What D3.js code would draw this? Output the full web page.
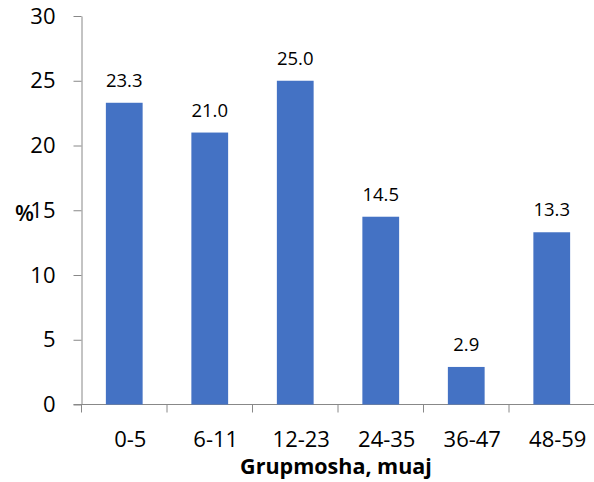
<!DOCTYPE html>
<html>
<head>
<meta charset="utf-8">
<script src="https://cdn.jsdelivr.net/npm/d3@7"></script>
<style>
  body { margin: 0; background: #fff; }
  svg { display: block; font-family: "Open Sans", sans-serif; }
</style>
</head>
<body>
<div id="chart"></div>
<script>
const categories = ["0-5", "6-11", "12-23", "24-35", "36-47", "48-59"];
const values = [23.3, 21.0, 25.0, 14.5, 2.9, 13.3];
const yTicks = [0, 5, 10, 15, 20, 25, 30];

const width = 594;
const height = 482;
const margin = { top: 16, right: 0, bottom: 77.5, left: 81.5 };

const svg = d3.select("#chart")
    .append("svg")
    .attr("width", width)
    .attr("height", height);

const x = d3.scaleBand()
    .domain(categories)
    .range([margin.left, width + 0.5])
    .paddingInner(0.57)
    .paddingOuter(0.285);

const y = d3.scaleLinear()
    .domain([0, 30])
    .range([height - margin.bottom, margin.top]);

const axisColor = "#888888";

// y axis
const yAxis = svg.append("g")
    .attr("transform", `translate(${margin.left},0)`)
    .call(d3.axisLeft(y).tickValues(yTicks).tickSize(8).tickPadding(18).tickSizeOuter(0));
yAxis.select(".domain").attr("stroke", axisColor);
yAxis.selectAll(".tick line").attr("stroke", axisColor);
yAxis.selectAll(".tick text")
    .attr("fill", "#000")
    .style("font-size", "22px")
    .style("font-family", "'Open Sans', sans-serif");

// x axis line and boundary ticks
const y0 = y(0);
svg.append("line")
    .attr("x1", margin.left - 8).attr("x2", x.range()[1])
    .attr("y1", y0).attr("y2", y0)
    .attr("stroke", axisColor);

const bounds = d3.range(categories.length + 1).map(i => x.range()[0] + i * x.step());
svg.selectAll(".xtick")
    .data(bounds)
    .enter().append("line")
    .attr("class", "xtick")
    .attr("x1", d => d).attr("x2", d => d)
    .attr("y1", y0).attr("y2", y0 + 8)
    .attr("stroke", axisColor);

svg.selectAll(".xlabel")
    .data(categories)
    .enter().append("text")
    .attr("class", "xlabel")
    .attr("x", d => x(d) + x.bandwidth() / 2 + 6)
    .attr("y", y0 + 42.5)
    .attr("text-anchor", "middle")
    .style("font-size", "22px")
    .text(d => d);

// bars
svg.selectAll(".bar")
    .data(values)
    .enter().append("rect")
    .attr("class", "bar")
    .attr("x", (d, i) => x(categories[i]))
    .attr("width", x.bandwidth())
    .attr("y", d => y(d))
    .attr("height", d => y0 - y(d))
    .attr("fill", "#4472C4");

// value labels
svg.selectAll(".vlabel")
    .data(values)
    .enter().append("text")
    .attr("class", "vlabel")
    .attr("x", (d, i) => x(categories[i]) + x.bandwidth() / 2)
    .attr("y", d => y(d) - 16)
    .attr("text-anchor", "middle")
    .style("font-size", "18.5px")
    .text(d => d.toFixed(1));

// axis titles
svg.append("text")
    .attr("x", 336)
    .attr("y", 474)
    .attr("text-anchor", "middle")
    .style("font-size", "21.5px")
    .style("font-weight", "bold")
    .text("Grupmosha, muaj");

svg.append("text")
    .attr("x", 15)
    .attr("y", 221)
    .style("font-size", "22px")
    .style("font-weight", "600")
    .text("%");
</script>
</body>
</html>
